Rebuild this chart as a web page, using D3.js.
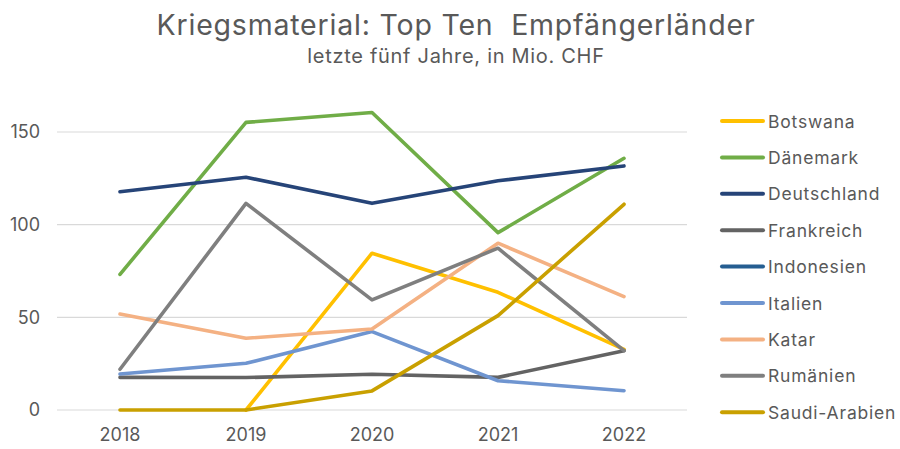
<!DOCTYPE html>
<html><head><meta charset="utf-8">
<script src="https://cdn.jsdelivr.net/npm/d3@7"></script>
<style>body{margin:0;background:#fff}svg{display:block;font-family:Inter,"Noto Sans",sans-serif}</style>
</head><body><svg id="c" width="900" height="449"></svg>
<script>
const years = ["2018","2019","2020","2021","2022"];
const yTicks = [0,50,100,150];
const countries = ["Botswana","Dänemark","Deutschland","Frankreich","Indonesien","Italien","Katar","Rumänien","Saudi-Arabien"];
const colors = ["#FFC000","#70AD47","#264478","#636363","#255E91","#6F95D0","#F4B183","#7F7F7F","#C9A000"];
const botswana    = [null, 0, 84.6, 63.5, 32.7];
const daenemark   = [73.2, 155.2, 160.5, 95.7, 135.8];
const deutschland = [117.8, 125.6, 111.5, 123.7, 131.7];
const frankreich  = [17.6, 17.5, 19.3, 17.6, 32];
const indonesien  = [null, null, null, null, null];
const italien     = [19.4, 25.2, 42.3, 15.8, 10.4];
const katar       = [51.8, 38.7, 43.7, 90, 61.2];
const rumaenien   = [22, 111.5, 59.4, 87.3, 32];
const saudi       = [0, 0, 10.3, 50.9, 111];
const seriesVals = [botswana,daenemark,deutschland,frankreich,indonesien,italien,katar,rumaenien,saudi];

const svg = d3.select("#c");
const txt = "#595959";
const x = d3.scaleBand().domain(years).range([57,687]);
const y = d3.scaleLinear().domain([0,150]).range([410,132]);

svg.append("text").attr("x",456).attr("y",35).attr("text-anchor","middle")
  .attr("font-size",28.5).attr("letter-spacing",0.8).attr("fill",txt).style("white-space","pre").text("Kriegsmaterial: Top Ten  Empfängerländer");
svg.append("text").attr("x",456).attr("y",63).attr("text-anchor","middle")
  .attr("font-size",20).attr("letter-spacing",0.7).attr("fill",txt).text("letzte fünf Jahre, in Mio. CHF");

// grid
svg.append("g").selectAll("line").data(yTicks).join("line")
  .attr("x1",57).attr("x2",687).attr("y1",d=>y(d)).attr("y2",d=>y(d))
  .attr("stroke","#d9d9d9").attr("stroke-width",1.2);

const yAxis = svg.append("g").attr("transform","translate(40,0)")
  .call(d3.axisLeft(y).tickValues(yTicks).tickSize(0).tickPadding(0));
yAxis.select(".domain").remove();
yAxis.selectAll("text").attr("font-size",18).attr("fill",txt).attr("font-family","Inter,sans-serif").attr("x",0);

const xAxis = svg.append("g").attr("transform","translate(0,410)")
  .call(d3.axisBottom(x).tickSize(0).tickPadding(18));
xAxis.select(".domain").remove();
xAxis.selectAll("text").attr("font-size",18).attr("fill",txt).attr("font-family","Inter,sans-serif");

const line = d3.line().defined(d=>d.v!=null)
  .x(d=>x(d.yr)+x.bandwidth()/2).y(d=>y(d.v));
seriesVals.forEach((vals,i)=>{
  const data = years.map((yr,j)=>({yr, v:vals[j]}));
  svg.append("path").datum(data).attr("d",line).attr("fill","none")
    .attr("stroke",colors[i]).attr("stroke-width",3.6)
    .attr("stroke-linejoin","round").attr("stroke-linecap","round");
});

const leg = svg.append("g").selectAll("g").data(countries).join("g")
  .attr("transform",(d,i)=>`translate(720,${121+i*36.4})`);
leg.append("line").attr("x1",2).attr("x2",43).attr("stroke",(d,i)=>colors[i])
  .attr("stroke-width",4).attr("stroke-linecap","round");
leg.append("text").attr("x",48).attr("y",6.5).attr("font-size",17.5).attr("letter-spacing",0.8).attr("fill",txt).text(d=>d);
</script></body></html>
